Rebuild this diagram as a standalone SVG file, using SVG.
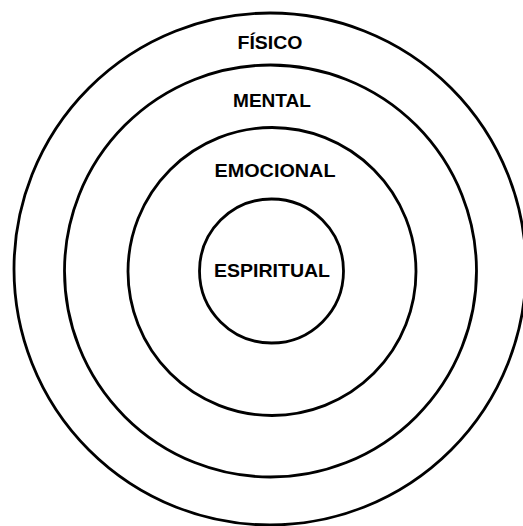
<svg xmlns="http://www.w3.org/2000/svg" width="523" height="526" viewBox="0 0 523 526">
<style>
.ring{fill:none;stroke:#000;stroke-width:2.8}
.lbl{font-family:"Liberation Sans",Arial,sans-serif;font-weight:bold;font-size:18.5px;fill:#000;text-anchor:middle}
</style>
<rect width="523" height="526" fill="#fff"/>
<g id="fisico">
<circle class="ring" cx="270" cy="269" r="256"/>
<text class="lbl" x="270" y="49" textLength="65" lengthAdjust="spacingAndGlyphs">FÍSICO</text>
</g>
<g id="mental">
<circle class="ring" cx="270.5" cy="271" r="206"/>
<text class="lbl" x="272" y="107" textLength="78" lengthAdjust="spacingAndGlyphs">MENTAL</text>
</g>
<g id="emocional">
<circle class="ring" cx="272" cy="271.5" r="144"/>
<text class="lbl" x="275" y="177" textLength="121" lengthAdjust="spacingAndGlyphs">EMOCIONAL</text>
</g>
<g id="espiritual">
<circle class="ring" cx="271.5" cy="271" r="72"/>
<text class="lbl" x="272" y="277" textLength="116" lengthAdjust="spacingAndGlyphs">ESPIRITUAL</text>
</g>
</svg>
